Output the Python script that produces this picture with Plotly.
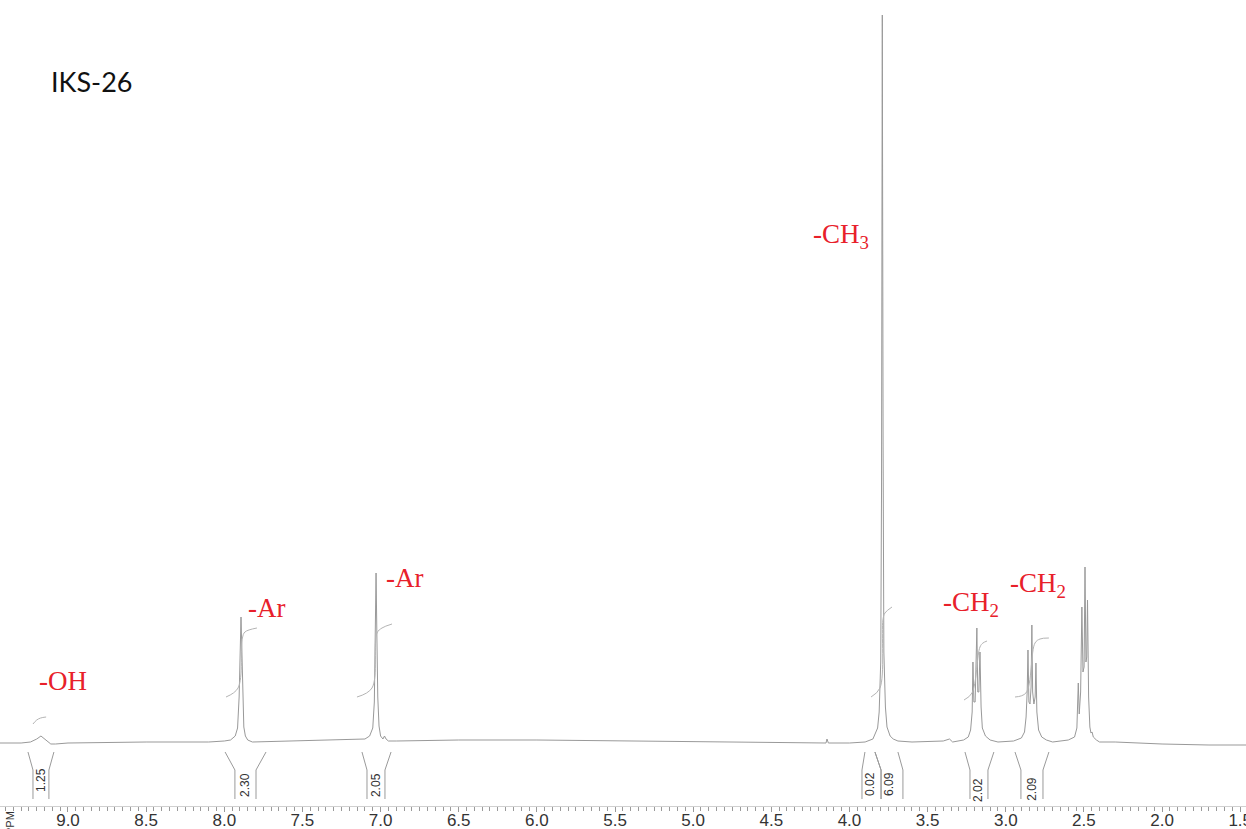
import plotly.graph_objects as go

# ---------------- data ----------------
# 1H NMR spectrum: chemical shift (ppm) and intensity (arbitrary units)
spec_ppm = [9.435, 9.30, 9.24, 9.20, 9.173, 9.15, 9.11, 9.08, 9.00, 8.50, 8.10, 8.00, 7.96, 7.93, 7.915,
            7.905, 7.898, 7.893, 7.888, 7.882, 7.875, 7.865, 7.85, 7.82, 7.50, 7.20, 7.10, 7.07, 7.05,
            7.04, 7.034, 7.029, 7.024, 7.018, 7.01, 7.00, 6.985, 6.975, 6.965, 6.95, 6.90, 6.50, 6.00,
            5.50, 5.00, 4.50, 4.15, 4.144, 4.135, 4.00, 3.90, 3.85, 3.83, 3.82, 3.81, 3.80, 3.795, 3.790,
            3.785, 3.78, 3.77, 3.76, 3.74, 3.72, 3.69, 3.60, 3.40, 3.36, 3.34, 3.27, 3.24, 3.225, 3.215,
            3.210, 3.204, 3.196, 3.185, 3.179, 3.172, 3.165, 3.158, 3.15, 3.13, 3.10, 3.05, 2.95, 2.90,
            2.88, 2.87, 2.863, 2.858, 2.852, 2.845, 2.838, 2.833, 2.828, 2.820, 2.812, 2.807, 2.801, 2.79,
            2.77, 2.74, 2.70, 2.60, 2.56, 2.545, 2.536, 2.530, 2.521, 2.513, 2.506, 2.499, 2.493, 2.487,
            2.482, 2.477, 2.470, 2.462, 2.455, 2.448, 2.44, 2.42, 2.40, 2.30, 2.00, 1.70, 1.463]
spec_int = [-1, -1, 0, 3, 6, 3, -2, -2, -1, 0, 0, 1, 2, 6, 14,
            45, 95, 125, 95, 40, 15, 6, 2, 0, 1, 2, 3, 6, 14,
            40, 100, 169, 110, 45, 16, 6, 3, 6, 3, 1, 1, 2, 2,
            1, 0, -1, -1, 3, -1, -1, 0, 3, 10, 14, 30, 80, 250, 727,
            300, 90, 35, 15, 6, 3, 1, 0, 1, 3, 0, 2, 5, 12, 30,
            80, 40, 40, 114, 50, 50, 90, 35, 14, 6, 2, 0, 1, 4,
            10, 25, 50, 92, 40, 38, 55, 117, 50, 38, 45, 79, 30, 12,
            5, 2, 0, 2, 5, 14, 59, 28, 50, 135, 70, 75, 175, 80,
            85, 142, 45, 15, 9, 10, 5, 2, 0, 0, -2, -3, -3]

# integral curves (ppm, intensity), one list per integrated region
integ_ppm = [
    [9.224, 9.20, 9.175, 9.14],
    [7.989, 7.912, 7.884, 7.868, 7.791],
    [7.151, 7.055, 7.023, 6.991, 6.927],
    [3.862, 3.805, 3.786, 3.773, 3.728],
    [3.267, 3.216, 3.165, 3.146, 3.120],
    [2.941, 2.871, 2.813, 2.781, 2.724],
]
integ_int = [
    [18, 22, 24, 25],
    [45, 54, 104, 110, 114],
    [45, 54, 109, 114, 118],
    [45, 54, 122, 129, 135],
    [42, 49, 95, 99, 101],
    [45, 49, 99, 103, 104],
]

# integration brackets: outer/inner edges (ppm) and values
br_left_top = [9.256, 7.995, 7.119, 3.901, 3.837, 3.261, 2.941]
br_left_bot = [9.224, 7.932, 7.087, 3.920, 3.798, 3.229, 2.903]
br_right_top = [9.090, 7.733, 6.933, 3.837, 3.690, 3.076, 2.724]
br_right_bot = [9.122, 7.797, 6.972, 3.798, 3.658, 3.114, 2.762]
br_label_ppm = [9.173, 7.868, 7.029, 3.869, 3.747, 3.178, 2.833]
br_labels = ["1.25", "2.30", "2.05", "0.02", "6.09", "2.02", "2.09"]

# peak assignments
asg_text = ["-OH", "-Ar", "-Ar", "-CH<sub>3</sub>", "-CH<sub>2</sub>", "-CH<sub>2</sub>"]
asg_ppm = [9.032, 7.727, 6.844, 4.054, 3.223, 2.794]
asg_int = [61, 134, 164, 506, 138, 157]

tick_vals = [9.0, 8.5, 8.0, 7.5, 7.0, 6.5, 6.0, 5.5, 5.0, 4.5, 4.0, 3.5, 3.0, 2.5, 2.0, 1.5]

sample_name = "IKS-26"

# ---------------- styling / layout ----------------
W, H = 1246, 829
AXIS_PX = 806          # pixel row of the x axis
X_RANGE = [9.435, 1.463]
Y_RANGE = [-64, 742]

BR_TOP, BR_BEND, BR_BOT = -10, -28, -57
BR_LABEL_Y = [-38, -43, -43, -42, -42, -48, -47]

RED = "#e8202a"

fig = go.Figure()

fig.add_trace(go.Scatter(x=spec_ppm, y=spec_int, mode="lines",
                         line=dict(color="#999999", width=1), hoverinfo="skip"))

ix, iy = [], []
for xs, ys in zip(integ_ppm, integ_int):
    ix += xs + [None]
    iy += ys + [None]
fig.add_trace(go.Scatter(x=ix, y=iy, mode="lines", line=dict(color="#b4b4b4", width=1, shape="spline"),
                         hoverinfo="skip"))

bx, by = [], []
for lt, lb, rt, rb in zip(br_left_top, br_left_bot, br_right_top, br_right_bot):
    bx += [lt, lb, lb, None, rt, rb, rb, None]
    by += [BR_TOP, BR_BEND, BR_BOT, None, BR_TOP, BR_BEND, BR_BOT, None]
fig.add_trace(go.Scatter(x=bx, y=by, mode="lines", line=dict(color="#9a9a9a", width=1), hoverinfo="skip"))

for t, xp, yl in zip(br_labels, br_label_ppm, BR_LABEL_Y):
    fig.add_annotation(x=xp, y=yl, text=t, showarrow=False, textangle=-90,
                       xanchor="center", yanchor="middle",
                       font=dict(family="Liberation Sans", size=12, color="#333333"))

for t, xp, yp in zip(asg_text, asg_ppm, asg_int):
    fig.add_annotation(x=xp, y=yp, text=t, showarrow=False, xanchor="center", yanchor="middle",
                       font=dict(family="Liberation Serif", size=27, color=RED))

fig.add_annotation(xref="paper", yref="paper", x=91 / W, y=1 - 82 / H, text=sample_name,
                   showarrow=False, xanchor="center", yanchor="middle",
                   font=dict(family="Lato", size=27, color="#111111"))

fig.add_annotation(xref="paper", yref="paper", x=10 / W, y=1 - 823 / H, text="PPM",
                   showarrow=False, textangle=-90, xanchor="center", yanchor="middle",
                   font=dict(family="Liberation Sans", size=11, color="#333333"))

fig.update_layout(
    width=W, height=H, margin=dict(l=0, r=0, t=0, b=0, autoexpand=False),
    paper_bgcolor="white", plot_bgcolor="white", showlegend=False,
    xaxis=dict(range=X_RANGE, domain=[0, 1], tickvals=tick_vals,
               ticktext=[f"{v:.1f}" for v in tick_vals], automargin=False,
               ticklabeloverflow="allow", ticklabelstandoff=-6,
               ticks="outside", ticklen=5, tickcolor="#9a9a9a", showgrid=False, zeroline=False,
               showline=True, linecolor="#d0d0d0", linewidth=1,
               tickfont=dict(family="Liberation Sans", size=17, color="#333333"),
               minor=dict(dtick=0.05, tick0=0, ticks="outside", ticklen=4, tickcolor="#9a9a9a")),
    yaxis=dict(range=Y_RANGE, domain=[(H - AXIS_PX) / H, 1], visible=False, automargin=False),
)

fig.write_html("out.html")
